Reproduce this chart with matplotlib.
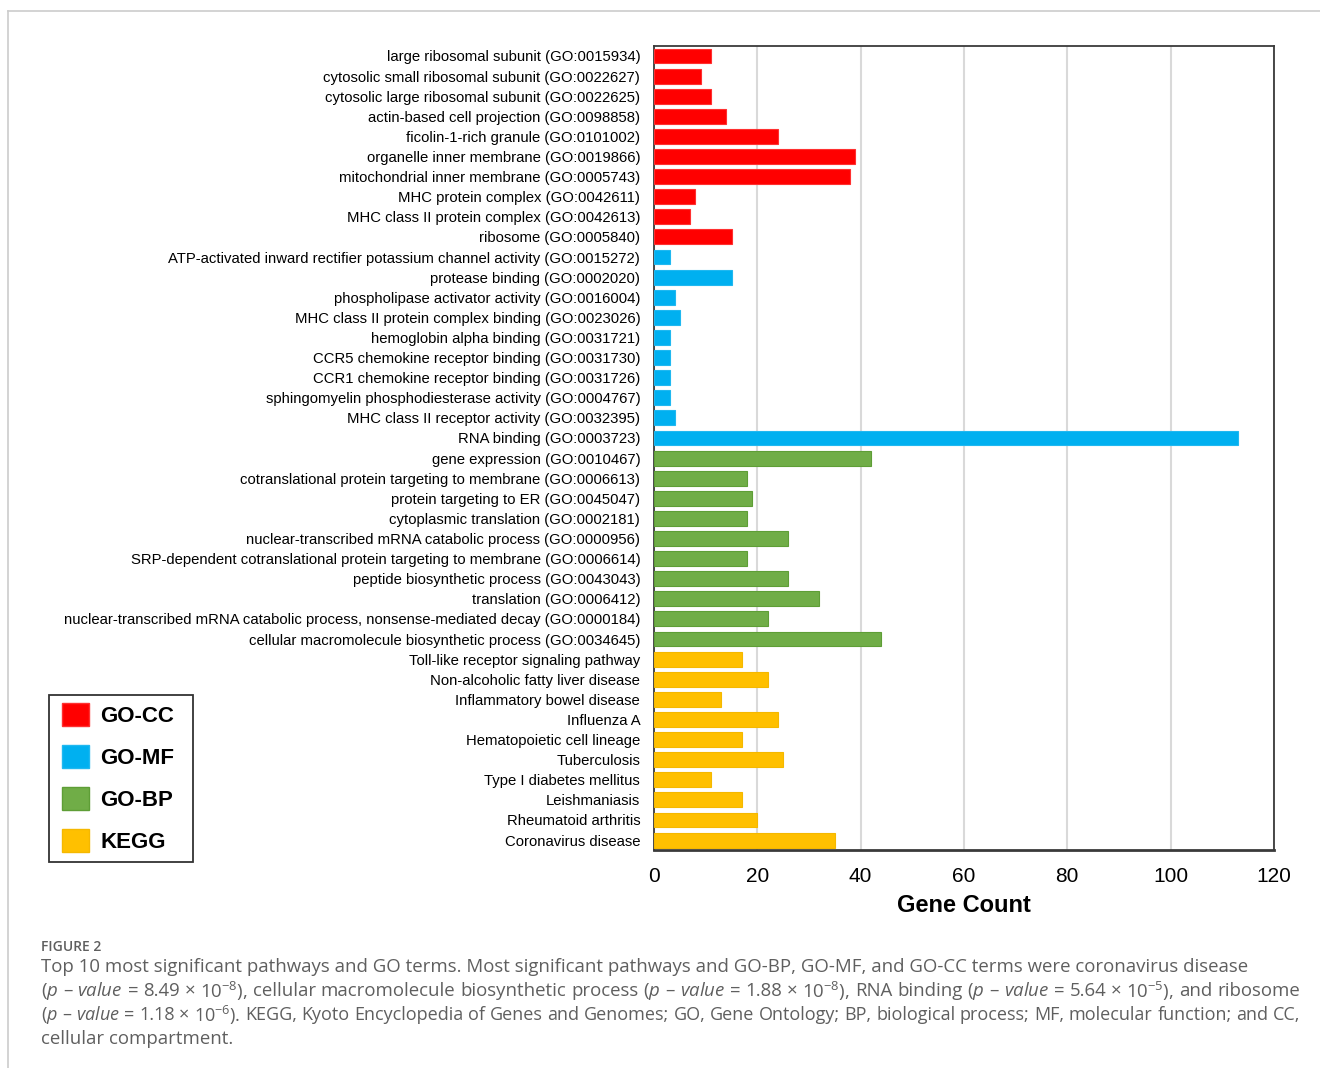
import matplotlib.pyplot as plt
from matplotlib.patches import Patch, Rectangle
from matplotlib.lines import Line2D

plt.rcParams['font.family'] = ['Liberation Sans', 'DejaVu Sans']
plt.rcParams['mathtext.fontset'] = 'custom'
plt.rcParams['mathtext.rm'] = 'Open Sans'
plt.rcParams['mathtext.it'] = 'Open Sans:italic'

cc_terms = ['large ribosomal subunit (GO:0015934)',
            'cytosolic small ribosomal subunit (GO:0022627)',
            'cytosolic large ribosomal subunit (GO:0022625)',
            'actin-based cell projection (GO:0098858)',
            'ficolin-1-rich granule (GO:0101002)',
            'organelle inner membrane (GO:0019866)',
            'mitochondrial inner membrane (GO:0005743)',
            'MHC protein complex (GO:0042611)',
            'MHC class II protein complex (GO:0042613)',
            'ribosome (GO:0005840)']
cc_counts = [11, 9, 11, 14, 24, 39, 38, 8, 7, 15]

mf_terms = ['ATP-activated inward rectifier potassium channel activity (GO:0015272)',
            'protease binding (GO:0002020)',
            'phospholipase activator activity (GO:0016004)',
            'MHC class II protein complex binding (GO:0023026)',
            'hemoglobin alpha binding (GO:0031721)',
            'CCR5 chemokine receptor binding (GO:0031730)',
            'CCR1 chemokine receptor binding (GO:0031726)',
            'sphingomyelin phosphodiesterase activity (GO:0004767)',
            'MHC class II receptor activity (GO:0032395)',
            'RNA binding (GO:0003723)']
mf_counts = [3, 15, 4, 5, 3, 3, 3, 3, 4, 113]

bp_terms = ['gene expression (GO:0010467)',
            'cotranslational protein targeting to membrane (GO:0006613)',
            'protein targeting to ER (GO:0045047)',
            'cytoplasmic translation (GO:0002181)',
            'nuclear-transcribed mRNA catabolic process (GO:0000956)',
            'SRP-dependent cotranslational protein targeting to membrane (GO:0006614)',
            'peptide biosynthetic process (GO:0043043)',
            'translation (GO:0006412)',
            'nuclear-transcribed mRNA catabolic process, nonsense-mediated decay (GO:0000184)',
            'cellular macromolecule biosynthetic process (GO:0034645)']
bp_counts = [42, 18, 19, 18, 26, 18, 26, 32, 22, 44]

kegg_terms = ['Toll-like receptor signaling pathway',
              'Non-alcoholic fatty liver disease',
              'Inflammatory bowel disease',
              'Influenza A',
              'Hematopoietic cell lineage',
              'Tuberculosis',
              'Type I diabetes mellitus',
              'Leishmaniasis',
              'Rheumatoid arthritis',
              'Coronavirus disease']
kegg_counts = [17, 22, 13, 24, 17, 25, 11, 17, 20, 35]

groups = ['GO-CC', 'GO-MF', 'GO-BP', 'KEGG']
colors = ['#FF0000', '#00B0F0', '#70AD47', '#FFC000']
edges = ['#FF3030', '#20B8F0', '#5E9E36', '#F5B800']

W, H = 1320, 1068
fig = plt.figure(figsize=(W / 100, H / 100), dpi=100)
ax = fig.add_axes([0.4955, 0.204, 0.4695, 0.753])

labels = cc_terms + mf_terms + bp_terms + kegg_terms
counts = cc_counts + mf_counts + bp_counts + kegg_counts
bar_colors, bar_edges = [], []
for c, e, n in zip(colors, edges, [len(cc_terms), len(mf_terms), len(bp_terms), len(kegg_terms)]):
    bar_colors += [c] * n
    bar_edges += [e] * n

ypos = list(range(len(labels)))
ax.barh(ypos, counts, height=0.74, color=bar_colors, edgecolor=bar_edges, linewidth=0.8, zorder=3)
ax.set_ylim(len(labels) - 0.5, -0.5)
ax.set_yticks(ypos)
ax.set_yticklabels(labels, fontsize=10.75)
ax.set_xlim(0, 120)
ax.set_xticks(range(0, 121, 20))
ax.tick_params(axis='x', labelsize=15, length=0, pad=12)
ax.tick_params(axis='y', length=0, pad=10)
ax.xaxis.grid(True, color='#d9d9d9', linewidth=1.5, zorder=0)
ax.set_xlabel('Gene Count', fontsize=17, fontweight='bold', labelpad=6)
for s in ax.spines.values():
    s.set_color('#3a3a3a')
    s.set_linewidth(1.3)
ax.spines['bottom'].set_linewidth(2)

# legend box drawn separately so its size can be set directly
fig.add_artist(Rectangle((49 / W, 1 - 862 / H), 144 / W, 167 / H, transform=fig.transFigure,
                         facecolor='white', edgecolor='#333333', linewidth=1.3, zorder=4))
handles = [Patch(facecolor=c, edgecolor=e, label=g) for g, c, e in zip(groups, colors, edges)]
leg = fig.legend(handles=handles, loc='center', bbox_to_anchor=(118 / W, 1 - 778 / H),
                 prop={'weight': 'bold', 'size': 16}, frameon=False,
                 handlelength=1.25, handleheight=1.25, handletextpad=0.5,
                 labelspacing=0.8, borderpad=0.2, borderaxespad=0)
leg.set_zorder(5)

# thin page border
fig.add_artist(Line2D([8 / W, 1], [1 - 11 / H] * 2, color='#cccccc', linewidth=1.2))
fig.add_artist(Line2D([8 / W] * 2, [0, 1 - 11 / H], color='#cccccc', linewidth=1.2))

cap_color = '#5f5f5f'
cap_kw = dict(color=cap_color, family='Open Sans', va='center')
fig.text(41 / W, 1 - 947 / H, 'FIGURE 2', fontsize=10, fontweight='semibold', **cap_kw)

renderer = fig.canvas.get_renderer()


def justified_line(text, y, size, x0=41, x1=1300):
    # lay words out one by one so the line fills x0..x1
    words = text.split(' ')
    arts = [fig.text(0, 1 - y / H, w, fontsize=size, **cap_kw) for w in words]
    widths = [a.get_window_extent(renderer).width for a in arts]
    gap = (x1 - x0 - sum(widths)) / (len(words) - 1)
    x = x0
    for a, w in zip(arts, widths):
        a.set_x(x / W)
        x += w + gap


fig.text(41 / W, 1 - 967 / H,
         'Top 10 most significant pathways and GO terms. Most significant pathways and GO-BP, GO-MF, and GO-CC terms were coronavirus disease',
         fontsize=13.4, **cap_kw)
justified_line(r'($\it{p}$ – $\it{value}$ = 8.49 × 10$^{-8}$), cellular macromolecule biosynthetic process ($\it{p}$ – $\it{value}$ = 1.88 × 10$^{-8}$), RNA binding ($\it{p}$ – $\it{value}$ = 5.64 × 10$^{-5}$), and ribosome',
               991, 13.4)
justified_line(r'($\it{p}$ – $\it{value}$ = 1.18 × 10$^{-6}$). KEGG, Kyoto Encyclopedia of Genes and Genomes; GO, Gene Ontology; BP, biological process; MF, molecular function; and CC,',
               1015, 13.0)
fig.text(41 / W, 1 - 1039 / H, 'cellular compartment.', fontsize=13.4, **cap_kw)

fig.savefig('out.png', dpi=100)
